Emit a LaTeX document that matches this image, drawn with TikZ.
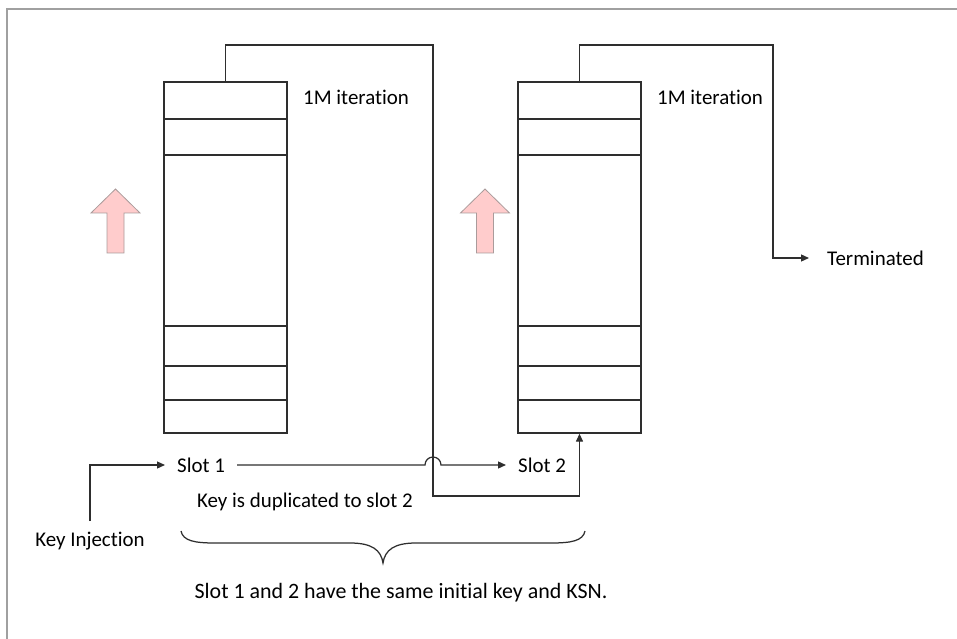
\documentclass[tikz,border=0pt]{standalone}
\usepackage{fontspec}
\setmainfont{Carlito}[Ligatures=NoCommon]
\usetikzlibrary{arrows.meta}
\begin{document}
\begin{tikzpicture}[x=1bp,y=-1bp,
  wire/.style={draw=black!82, line width=1.25bp},
  arr/.style={wire, -{Triangle[length=8bp,width=7bp]}},
  stack/.style={draw=black!82, line width=1.3bp, minimum width=123bp,
    minimum height=351bp, inner sep=0pt},
  lbl/.style={font=\fontsize{21}{25}\selectfont, inner sep=0pt},
  pinkarrow/.style={fill={rgb,255:red,255;green,204;blue,204},
    draw={rgb,255:red,170;green,155;blue,155}, line width=0.8bp, line join=miter}
]
\useasboundingbox (0,0) rectangle (957,639);
% page frame
\draw[draw={rgb,255:red,160;green,160;blue,160}, line width=2bp] (7,639) -- (7,9) -- (957,9);

% the two key slots
\node[stack] (s1) at (225.5,257.5) {};
\node[stack] (s2) at (579.5,257.5) {};
\foreach \s in {s1,s2}
  \foreach \yy in {119,155,326,366,400}
    \draw[wire] (\s.west |- 0,\yy) -- (\s.east |- 0,\yy);

% upward block arrows
\foreach \cx in {115.5,485}
  \draw[pinkarrow] (\cx,189) -- (\cx+24.5,213) -- (\cx+8.5,213) -- (\cx+8.5,253)
    -- (\cx-8.5,253) -- (\cx-8.5,213) -- (\cx-24.5,213) -- cycle;

% labels
\node[lbl, anchor=west] (iter1) at (303,97) {1M iteration};
\node[lbl, anchor=west] (iter2) at (657,97) {1M iteration};
\node[lbl, anchor=west, inner xsep=12bp] (slot1) at (165,465) {Slot 1};
\node[lbl, anchor=west, inner xsep=12bp] (slot2) at (506,465) {Slot 2};
\node[lbl, anchor=west, inner xsep=18bp] (term) at (809,258) {Terminated};
\node[lbl, anchor=north, inner ysep=11bp] (keyinj) at (90,521) {Key Injection};
\node[lbl] (dup) at (305,502) {Key is duplicated to slot 2};
\node[lbl, font=\fontsize{22}{26}\selectfont] (note) at (401,593)
  {Slot 1 and 2 have the same initial key and KSN.};

% connectors
\draw[arr] (keyinj.north) |- (slot1.west);
\draw[arr] (slot1.east) -- (425,465) arc[start angle=180, end angle=0, radius=8bp]
  -- (slot2.west);
\draw[arr] (s1.north) |- (433,45) -- (433,496) -| (s2.south);
\draw[arr] (s2.north) |- (773,45) |- (term.west);

% curly brace under the slots
\draw[wire] (181,531) .. controls (183,541) and (195,543) .. (215,543) -- (350,543)
  .. controls (372,543) and (381,550) .. (383,563)
  .. controls (385,550) and (394,543) .. (416,543) -- (551,543)
  .. controls (571,543) and (583,541) .. (585,531);
\end{tikzpicture}
\end{document}
